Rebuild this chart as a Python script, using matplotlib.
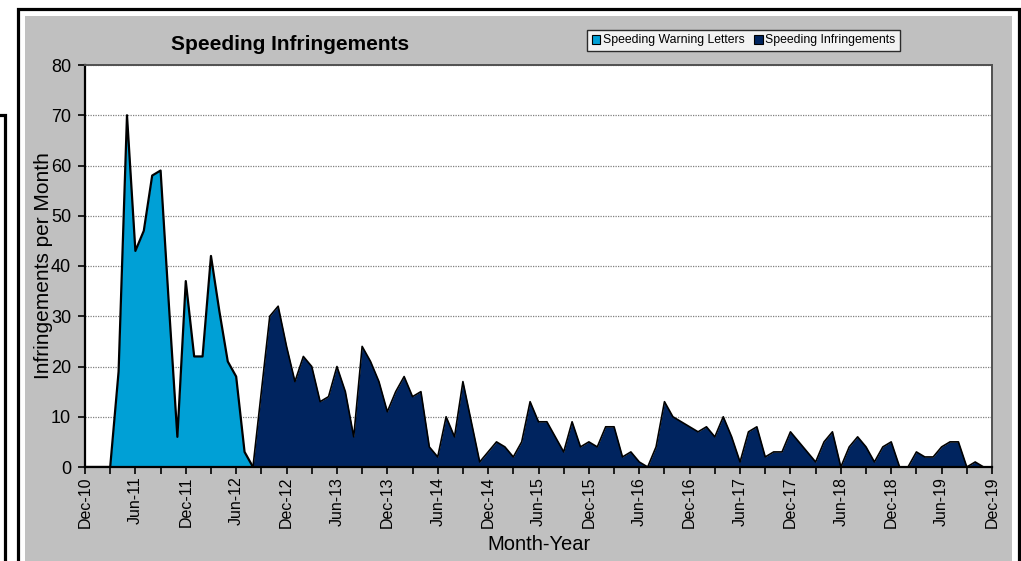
import numpy as np
import matplotlib.pyplot as plt
from matplotlib.patches import Rectangle, Patch

plt.rcParams['font.family'] = ['Liberation Sans', 'DejaVu Sans']

# month index 0 = Dec-10, one step per month up to Dec-19
tick_labels = ['Dec-10', 'Jun-11', 'Dec-11', 'Jun-12', 'Dec-12', 'Jun-13', 'Dec-13',
               'Jun-14', 'Dec-14', 'Jun-15', 'Dec-15', 'Jun-16', 'Dec-16', 'Jun-17',
               'Dec-17', 'Jun-18', 'Dec-18', 'Jun-19', 'Dec-19']

# Speeding Warning Letters, Dec-10 .. Aug-12
warning = [0, 0, 0, 0, 19, 70, 43, 47, 58, 59, 32, 6, 37, 22, 22, 42, 31, 21, 18, 3, 0]
warning_start = 0

# Speeding Infringements, Aug-12 .. Dec-19
infringe = [0, 15, 30, 32, 24, 17, 22, 20, 13, 14, 20, 15, 6, 24, 21, 17, 11, 15, 18, 14,
            15, 4, 2, 10, 6, 17, 9, 1, 3, 5, 4, 2, 5, 13, 9, 9, 6, 3, 9, 4,
            5, 4, 8, 8, 2, 3, 1, 0, 4, 13, 10, 9, 8, 7, 8, 6, 10, 6, 1, 7,
            8, 2, 3, 3, 7, 5, 3, 1, 5, 7, 0, 4, 6, 4, 1, 4, 5, 0, 0, 3,
            2, 2, 4, 5, 5, 0, 1, 0, 0]
infringe_start = 20

W, H = 1021, 561
fig = plt.figure(figsize=(W / 100, H / 100), dpi=100)
fig.patch.set_facecolor('white')

def fx(x):
    return x / W

def fy(y):
    return 1 - y / H

# frames around the chart (pixel coords from the top-left)
fig.add_artist(Rectangle((fx(-20), fy(600)), fx(25), (600 - 115) / H, zorder=-5,
                         transform=fig.transFigure, fill=False, edgecolor='black', lw=2.3))
fig.add_artist(Rectangle((fx(18), fy(600)), fx(1018.5 - 18), (600 - 8.5) / H, zorder=-5,
                         transform=fig.transFigure, fill=False, edgecolor='black', lw=2.3))
fig.add_artist(Rectangle((fx(25), fy(600)), fx(1012 - 25), (600 - 16) / H, zorder=-5,
                         transform=fig.transFigure, facecolor='#C0C0C0', edgecolor='none'))

ax = fig.add_axes([fx(85), fy(467), fx(992 - 85), (467 - 65) / H])
ax.set_facecolor('white')

xw = np.arange(len(warning)) + warning_start
xi = np.arange(len(infringe)) + infringe_start
light = '#00A0D6'
dark = '#00245F'
ax.fill_between(xw, warning, 0, color=light, lw=0, zorder=2)
ax.plot(xw, warning, color='black', lw=1.6, zorder=3)
ax.fill_between(xi, infringe, 0, color=dark, lw=0, zorder=2)
ax.plot(xi, infringe, color='black', lw=1.2, zorder=3)

n_months = 6 * (len(tick_labels) - 1)
ax.set_xlim(0, n_months)
ax.set_ylim(0, 80)
ax.set_xticks(np.arange(0, n_months + 1, 6))
ax.set_xticklabels(tick_labels, rotation=90, fontsize=11.5)
ax.set_xticks(np.arange(3, n_months, 6), minor=True)
ax.set_yticks(np.arange(0, 81, 10))
ax.tick_params(axis='y', labelsize=13, length=5, width=1.2, direction='out', pad=5)
ax.tick_params(axis='x', which='both', length=5, width=1.2, direction='out', pad=2)

ax.yaxis.grid(True, color='#808080', ls=(0, (1, 1)), lw=0.9)
for g in ax.get_ygridlines():
    g.set_zorder(1)

ax.spines['left'].set_linewidth(1.6)
ax.spines['bottom'].set_linewidth(1.6)
ax.spines['top'].set_color('#505050')
ax.spines['right'].set_color('#505050')
ax.spines['top'].set_linewidth(1.4)
ax.spines['right'].set_linewidth(1.4)

ax.set_ylabel('Infringements per Month', fontsize=15)
ax.yaxis.set_label_coords(-0.035, 0.5)
ax.set_xlabel('Month-Year', fontsize=14.5)
ax.xaxis.set_label_coords(0.5, -0.168)

fig.text(fx(290), fy(44), 'Speeding Infringements', fontsize=15, fontweight='bold',
         ha='center', va='center')

handles = [Patch(facecolor=light, edgecolor='black', lw=0.8, label='Speeding Warning Letters'),
           Patch(facecolor=dark, edgecolor='black', lw=0.8, label='Speeding Infringements')]
leg = fig.legend(handles=handles, loc='center', bbox_to_anchor=(fx(743.5), fy(40.5)),
                 ncol=2, fontsize=8.8, frameon=True, fancybox=False, handlelength=0.7,
                 handleheight=0.7, handletextpad=0.2, columnspacing=0.8, borderpad=0.35,
                 borderaxespad=0)
leg.get_frame().set_edgecolor('black')
leg.get_frame().set_linewidth(1.0)

fig.savefig('out.png', dpi=100)
